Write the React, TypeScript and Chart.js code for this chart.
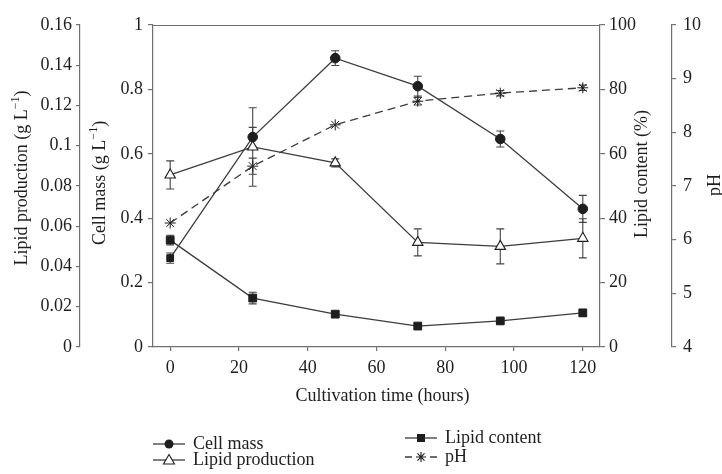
import React, { useEffect, useRef } from 'react';
import { Chart, registerables } from 'chart.js';

Chart.register(...registerables);

// ---- data ----
const hours = [0, 24, 48, 72, 96, 120];
const cellMass = [0.276, 0.652, 0.897, 0.81, 0.646, 0.429];
const cellMassErr = [0.016, 0.03, 0.023, 0.031, 0.025, 0.042];
const cellMassMarkers = ['rect', 'circle', 'circle', 'circle', 'circle', 'circle'];
const lipidProduction = [0.0855, 0.0994, 0.0915, 0.052, 0.05, 0.054];
const lipidProductionErr = [0.007, 0.0195, 0.002, 0.0067, 0.0087, 0.0097];
const lipidContent = [33.2, 15.2, 10.2, 6.5, 8.1, 10.6];
const lipidContentErr = [1.5, 1.8, 0.8, 0.6, 0.8, 1.0];
const pH = [6.31, 7.37, 8.14, 8.58, 8.73, 8.83];
const pHErr = [0, 0.15, 0, 0.07, 0.05, 0.05];

const xTicks = [0, 20, 40, 60, 80, 100, 120];
const lpTicks = [0, 0.02, 0.04, 0.06, 0.08, 0.1, 0.12, 0.14, 0.16];
const cmTicks = [0, 0.2, 0.4, 0.6, 0.8, 1];
const lcTicks = [0, 20, 40, 60, 80, 100];
const phTicks = [4, 5, 6, 7, 8, 9, 10];

const xTitle = 'Cultivation time (hours)';
const lpTitle = 'Lipid production';
const cmTitle = 'Cell mass';
const lcTitle = 'Lipid content (%)';
const phTitle = 'pH';
const legendLabels = ['Cell mass', 'Lipid production', 'Lipid content', 'pH'];

// ---- style ----
const FONT = "'Liberation Serif', 'Times New Roman', serif";
const FS = 18;
const AXIS = '#707070';
const INK = '#1e1e1e';
const LINE = '#3c3c3c';

const setTicks = (values: number[]) => (scale: any) => {
  scale.ticks = values.map((v) => ({ value: v }));
};
const fmt = (v: any) => String(Number(Number(v).toFixed(2)));
const pts = (vals: number[]) => hours.map((h, i) => ({ x: h, y: vals[i] }));

function drawRich(ctx: CanvasRenderingContext2D, segs: any[], cx: number, cy: number, angle: number) {
  ctx.save();
  ctx.translate(cx, cy);
  ctx.rotate(angle);
  let total = 0;
  const widths = segs.map((s) => {
    ctx.font = s.font;
    const w = ctx.measureText(s.text).width;
    total += w;
    return w;
  });
  let x = -total / 2;
  ctx.textBaseline = 'middle';
  ctx.textAlign = 'left';
  ctx.fillStyle = INK;
  segs.forEach((s, i) => {
    ctx.font = s.font;
    ctx.fillText(s.text, x, s.dy || 0);
    x += widths[i];
  });
  ctx.restore();
}

const unitSegs = (label: string) => [
  { text: label + ' (g L', font: `${FS}px ${FONT}` },
  { text: '\u22121', font: `${FS - 6}px ${FONT}`, dy: -6 },
  { text: ')', font: `${FS}px ${FONT}` },
];

function drawMarker(ctx: CanvasRenderingContext2D, kind: string, x: number, y: number) {
  ctx.save();
  ctx.fillStyle = INK;
  ctx.strokeStyle = INK;
  ctx.lineWidth = 1.1;
  if (kind === 'circle') {
    ctx.beginPath();
    ctx.arc(x, y, 4.5, 0, Math.PI * 2);
    ctx.fill();
  } else if (kind === 'rect') {
    ctx.fillRect(x - 4, y - 4, 8, 8);
  } else if (kind === 'triangle') {
    ctx.fillStyle = '#fff';
    ctx.beginPath();
    ctx.moveTo(x, y - 5.5);
    ctx.lineTo(x - 5.5, y + 4);
    ctx.lineTo(x + 5.5, y + 4);
    ctx.closePath();
    ctx.fill();
    ctx.stroke();
  } else if (kind === 'star') {
    ctx.beginPath();
    for (let k = 0; k < 4; k++) {
      const a = (k * Math.PI) / 4;
      ctx.moveTo(x - 5 * Math.cos(a), y - 5 * Math.sin(a));
      ctx.lineTo(x + 5 * Math.cos(a), y + 5 * Math.sin(a));
    }
    ctx.stroke();
  }
  ctx.restore();
}

const errorBarPlugin = {
  id: 'errorBars',
  beforeDatasetsDraw(chart: any) {
    const ctx = chart.ctx;
    const xs = chart.scales.x;
    chart.data.datasets.forEach((ds: any) => {
      const ys = chart.scales[ds.yAxisID];
      const errs = ds.errors;
      if (!errs) return;
      ctx.save();
      ctx.strokeStyle = '#444';
      ctx.lineWidth = 1.1;
      ds.data.forEach((p: any, i: number) => {
        const e = errs[i];
        if (!e) return;
        const x = xs.getPixelForValue(p.x);
        const yt = ys.getPixelForValue(p.y + e);
        const yb = ys.getPixelForValue(p.y - e);
        ctx.beginPath();
        ctx.moveTo(x, yt);
        ctx.lineTo(x, yb);
        ctx.moveTo(x - 4, yt);
        ctx.lineTo(x + 4, yt);
        ctx.moveTo(x - 4, yb);
        ctx.lineTo(x + 4, yb);
        ctx.stroke();
      });
      ctx.restore();
    });
  },
};

const decorPlugin = {
  id: 'decor',
  afterDraw(chart: any) {
    const ctx: CanvasRenderingContext2D = chart.ctx;
    const ca = chart.chartArea;
    const s = chart.scales;
    // top frame line
    ctx.save();
    ctx.strokeStyle = AXIS;
    ctx.lineWidth = 1.2;
    ctx.beginPath();
    ctx.moveTo(ca.left, ca.top + 0.5);
    ctx.lineTo(ca.right, ca.top + 0.5);
    ctx.stroke();
    ctx.restore();

    const midY = (ca.top + ca.bottom) / 2;
    const up = -Math.PI / 2;
    drawRich(ctx, unitSegs(lpTitle), s.yLP.left + 22, midY - 8, up);
    drawRich(ctx, unitSegs(cmTitle), s.yCM.left + 20, midY - 3, up);
    drawRich(ctx, [{ text: lcTitle, font: `${FS}px ${FONT}` }], s.yLC.left + 42, midY - 12, up);
    drawRich(ctx, [{ text: phTitle, font: `${FS}px ${FONT}` }], s.yPH.left + 43, midY - 1, up);
    drawRich(ctx, [{ text: xTitle, font: `${FS}px ${FONT}` }], (ca.left + ca.right) / 2 + 6, ca.bottom + 49, 0);

    // legend
    const items = [
      { label: legendLabels[0], marker: 'circle', dash: false, x: ca.left, y: ca.bottom + 97 },
      { label: legendLabels[1], marker: 'triangle', dash: false, x: ca.left, y: ca.bottom + 113 },
      { label: legendLabels[2], marker: 'rect', dash: false, x: ca.left + 252, y: ca.bottom + 91 },
      { label: legendLabels[3], marker: 'star', dash: true, x: ca.left + 252, y: ca.bottom + 110 },
    ];
    items.forEach((it) => {
      ctx.save();
      ctx.strokeStyle = LINE;
      ctx.lineWidth = 1.3;
      ctx.beginPath();
      if (it.dash) {
        ctx.moveTo(it.x, it.y);
        ctx.lineTo(it.x + 7, it.y);
        ctx.moveTo(it.x + 25, it.y);
        ctx.lineTo(it.x + 32, it.y);
      } else {
        ctx.moveTo(it.x, it.y);
        ctx.lineTo(it.x + 32, it.y);
      }
      ctx.stroke();
      ctx.restore();
      drawMarker(ctx, it.marker, it.x + 16, it.y);
      ctx.save();
      ctx.fillStyle = INK;
      ctx.font = `${FS}px ${FONT}`;
      ctx.textAlign = 'left';
      ctx.textBaseline = 'middle';
      ctx.fillText(it.label, it.x + 40, it.y);
      ctx.restore();
    });
  },
};

const yAxis = (
  position: 'left' | 'right',
  weight: number,
  min: number,
  max: number,
  ticks: number[],
  width: number,
  tickLen: number,
  pad: number
) => ({
  type: 'linear',
  position,
  weight,
  min,
  max,
  afterBuildTicks: setTicks(ticks),
  afterFit: (sc: any) => {
    sc.width = width;
  },
  grid: {
    drawOnChartArea: false,
    drawTicks: true,
    tickLength: tickLen,
    color: AXIS,
    lineWidth: 1.2,
  },
  border: { display: true, color: AXIS, width: 1.2 },
  ticks: {
    padding: pad,
    color: INK,
    font: { family: FONT, size: FS },
    callback: fmt,
  },
});

export default function App() {
  const ref = useRef<HTMLCanvasElement | null>(null);

  useEffect(() => {
    if (!ref.current) return;
    const chart = new Chart(ref.current, {
      type: 'line',
      data: {
        datasets: [
          {
            label: legendLabels[0],
            data: pts(cellMass),
            yAxisID: 'yCM',
            borderColor: LINE,
            borderWidth: 1.3,
            pointStyle: cellMassMarkers,
            pointRadius: 4.8,
            pointBackgroundColor: INK,
            pointBorderColor: INK,
            pointBorderWidth: 1,
            errors: cellMassErr,
          } as any,
          {
            label: legendLabels[1],
            data: pts(lipidProduction),
            yAxisID: 'yLP',
            borderColor: LINE,
            borderWidth: 1.3,
            pointStyle: 'triangle',
            pointRadius: 6,
            pointBackgroundColor: '#ffffff',
            pointBorderColor: INK,
            pointBorderWidth: 1.1,
            errors: lipidProductionErr,
          } as any,
          {
            label: legendLabels[2],
            data: pts(lipidContent),
            yAxisID: 'yLC',
            borderColor: LINE,
            borderWidth: 1.3,
            pointStyle: 'rect',
            pointRadius: 5.5,
            pointBackgroundColor: INK,
            pointBorderColor: INK,
            pointBorderWidth: 1,
            errors: lipidContentErr,
          } as any,
          {
            label: legendLabels[3],
            data: pts(pH),
            yAxisID: 'yPH',
            borderColor: LINE,
            borderWidth: 1.3,
            borderDash: [8, 5],
            pointStyle: 'star',
            pointRadius: 5.5,
            pointBackgroundColor: INK,
            pointBorderColor: INK,
            pointBorderWidth: 1,
            errors: pHErr,
          } as any,
        ],
      },
      options: {
        responsive: false,
        animation: false,
        events: [],
        layout: { padding: { left: 0, right: 0, top: 25, bottom: 87 } },
        plugins: {
          legend: { display: false },
          tooltip: { enabled: false },
        },
        scales: {
          x: {
            type: 'linear',
            min: -5,
            max: 125,
            afterBuildTicks: setTicks(xTicks),
            afterFit: (sc: any) => {
              sc.height = 40;
            },
            grid: {
              drawOnChartArea: false,
              drawTicks: true,
              tickLength: 4,
              color: AXIS,
              lineWidth: 1.2,
            },
            border: { display: true, color: AXIS, width: 1.2 },
            ticks: {
              padding: 6,
              color: INK,
              maxRotation: 0,
              font: { family: FONT, size: FS },
              callback: fmt,
            },
          },
          yCM: yAxis('left', 0, 0, 1, cmTicks, 73, 5, 5),
          yLP: yAxis('left', 1, 0, 0.16, lpTicks, 80, 4, 4),
          yLC: yAxis('right', 0, 0, 100, lcTicks, 72, 5, 4),
          yPH: yAxis('right', 1, 4, 10, phTicks, 50, 4, 7),
        } as any,
      },
      plugins: [errorBarPlugin, decorPlugin],
    } as any);
    return () => chart.destroy();
  }, []);

  return (
    <div style={{ position: 'fixed', left: 0, top: 0, width: 722, height: 474, background: '#fff' }}>
      <canvas ref={ref} width={722} height={474} style={{ display: 'block', width: 722, height: 474 }} />
    </div>
  );
}
